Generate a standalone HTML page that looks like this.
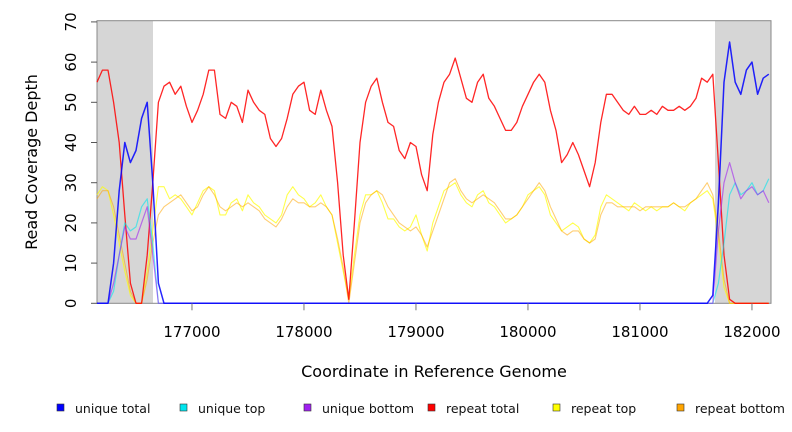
<!DOCTYPE html>
<html><head><meta charset="utf-8"><style>
body{margin:0;background:#fff;}
svg{display:block;font-family:"DejaVu Sans","Liberation Sans",sans-serif;}
</style></head><body>
<svg id="chart" width="792" height="432" viewBox="0 0 792 432"></svg>
<script>
const xStart = 176150;
const xStep = 50;
const xTicks = [177000,178000,179000,180000,181000,182000];
const yTicks = [0,10,20,30,40,50,60,70];
const shadeRegions = [[176152,176652],[181670,182170]];
const seriesNames = ["unique total","unique top","unique bottom","repeat total","repeat top","repeat bottom"];
const seriesColors = ["#0000ff","#00e5ee","#a020f0","#ff0000","#ffff00","#ffa500"];
const repeatTotal = [55,58,58,50,40,22,5,0,0,12,30,50,54,55,52,54,49,45,48,52,58,58,47,46,50,49,45,53,50,48,47,41,39,41,46,52,54,55,48,47,53,48,44,30,12,1,20,40,50,54,56,50,45,44,38,36,40,39,32,28,42,50,55,57,61,56,51,50,55,57,51,49,46,43,43,45,49,52,55,57,55,48,43,35,37,40,37,33,29,35,45,52,52,50,48,47,49,47,47,48,47,49,48,48,49,48,49,51,56,55,57,35,12,1,0,0,0,0,0,0,0];
const repeatTop = [27,29,28,22,15,8,2,0,0,8,18,29,29,26,27,26,24,22,25,28,29,28,22,22,25,26,23,27,25,24,22,21,20,22,27,29,27,26,24,25,27,24,22,15,8,1,12,22,27,27,28,25,21,21,19,18,19,22,17,13,20,24,28,29,30,27,25,24,27,28,25,24,22,20,21,22,24,27,28,29,27,22,20,18,19,20,19,16,15,17,24,27,26,25,24,23,25,24,23,24,23,24,24,25,24,23,25,26,27,28,26,16,4,0,0,0,0,0,0,0,0];
const repeatBottom = [26,28,28,24,17,10,3,0,0,6,15,22,24,25,26,27,25,23,24,27,29,27,24,23,24,25,24,25,24,23,21,20,19,21,24,26,25,25,24,24,25,24,22,16,9,0,10,20,25,27,28,27,24,22,20,19,18,19,17,14,18,22,26,30,31,28,26,25,26,27,26,25,23,21,21,22,24,26,28,30,28,24,21,18,17,18,18,16,15,16,22,25,25,24,24,24,24,23,24,24,24,24,24,25,24,24,25,26,28,30,27,18,6,0,0,0,0,0,0,0,0];
const uniqueTotal = [0,0,0,10,28,40,35,38,46,50,30,5,0,0,0,0,0,0,0,0,0,0,0,0,0,0,0,0,0,0,0,0,0,0,0,0,0,0,0,0,0,0,0,0,0,0,0,0,0,0,0,0,0,0,0,0,0,0,0,0,0,0,0,0,0,0,0,0,0,0,0,0,0,0,0,0,0,0,0,0,0,0,0,0,0,0,0,0,0,0,0,0,0,0,0,0,0,0,0,0,0,0,0,0,0,0,0,0,0,0,2,25,55,65,55,52,58,60,52,56,57];
const uniqueTop = [0,0,0,3,12,20,18,19,24,26,15,0,0,0,0,0,0,0,0,0,0,0,0,0,0,0,0,0,0,0,0,0,0,0,0,0,0,0,0,0,0,0,0,0,0,0,0,0,0,0,0,0,0,0,0,0,0,0,0,0,0,0,0,0,0,0,0,0,0,0,0,0,0,0,0,0,0,0,0,0,0,0,0,0,0,0,0,0,0,0,0,0,0,0,0,0,0,0,0,0,0,0,0,0,0,0,0,0,0,0,0,5,15,27,30,27,28,30,27,28,31];
const uniqueBottom = [0,0,0,5,12,19,16,16,20,24,12,0,0,0,0,0,0,0,0,0,0,0,0,0,0,0,0,0,0,0,0,0,0,0,0,0,0,0,0,0,0,0,0,0,0,0,0,0,0,0,0,0,0,0,0,0,0,0,0,0,0,0,0,0,0,0,0,0,0,0,0,0,0,0,0,0,0,0,0,0,0,0,0,0,0,0,0,0,0,0,0,0,0,0,0,0,0,0,0,0,0,0,0,0,0,0,0,0,0,0,0,18,30,35,30,26,28,29,27,28,25];

const NS="http://www.w3.org/2000/svg";
const svg=document.getElementById('chart');
const L=97,R=771,T=20.7,B=303.3;
const xMin=176152,xMax=182170,yMin=0,yMax=70.3;
function sx(c){return L+(c-xMin)/(xMax-xMin)*(R-L);}
function sy(v){return B-(v-yMin)/(yMax-yMin)*(B-T);}
function mk(tag,attrs){const e=document.createElementNS(NS,tag);for(const k in attrs)e.setAttribute(k,attrs[k]);svg.appendChild(e);return e;}

shadeRegions.forEach(r=>{
  const e=mk('rect',{x:sx(r[0]),y:T,width:sx(r[1])-sx(r[0]),height:B-T,fill:'#d6d6d6'});
  
  
});
const frame=mk('rect',{x:L,y:T,width:R-L,height:B-T,fill:'none',stroke:'#888','stroke-width':1});



const allSeries=[uniqueTotal,uniqueTop,uniqueBottom,repeatTotal,repeatTop,repeatBottom];
const opac=[0.85,0.6,0.6,0.85,0.7,0.55];
const widths=[1.5,1.2,1.2,1.3,1.1,1.1];
const drawOrder=[4,5,3,1,2,0];
drawOrder.forEach(s=>{
  const vals=allSeries[s];
  let d='';
  vals.forEach((v,i)=>{
    const x=sx(Math.min(xMax,Math.max(xMin,xStart+i*xStep))), y=sy(v);
    d+=(i===0?'M':'L')+x.toFixed(1)+','+y.toFixed(1);
  });
  const p=mk('path',{d:d,fill:'none',stroke:seriesColors[s],'stroke-opacity':opac[s],'stroke-width':widths[s],'stroke-linejoin':'round'});
  
  
});

yTicks.forEach(v=>{
  const y=sy(v);
  const t=mk('line',{x1:L-6,x2:L,y1:y,y2:y,stroke:'#555'});
  
  
  const lb=mk('text',{x:0,y:0,transform:'translate(76,'+y+') rotate(-90)','text-anchor':'middle','font-size':15,fill:'#000'});
  lb.textContent=v;
  
  
});
xTicks.forEach(c=>{
  const x=sx(c);
  const t=mk('line',{x1:x,x2:x,y1:B,y2:B+7,stroke:'#777'});
  
  
  const lb=mk('text',{x:x,y:337,'text-anchor':'middle','font-size':15,fill:'#000'});
  lb.textContent=c;
  
  
});
const yt=mk('text',{x:0,y:0,transform:'translate(37,162) rotate(-90)','text-anchor':'middle','font-size':16,fill:'#000'});
yt.textContent='Read Coverage Depth';


const xt=mk('text',{x:434,y:377,'text-anchor':'middle','font-size':16,fill:'#000'});
xt.textContent='Coordinate in Reference Genome';



const legX=[57,180,304,428,553,677];
seriesNames.forEach((n,i)=>{
  const r=mk('rect',{x:legX[i],y:404,width:7,height:7,fill:seriesColors[i],stroke:'#333','stroke-width':0.6});
  
  
  const t=mk('text',{x:legX[i]+18,y:413,'font-size':12.5,fill:'#111'});
  t.textContent=n;
  
  
});
</script>
</body></html>
